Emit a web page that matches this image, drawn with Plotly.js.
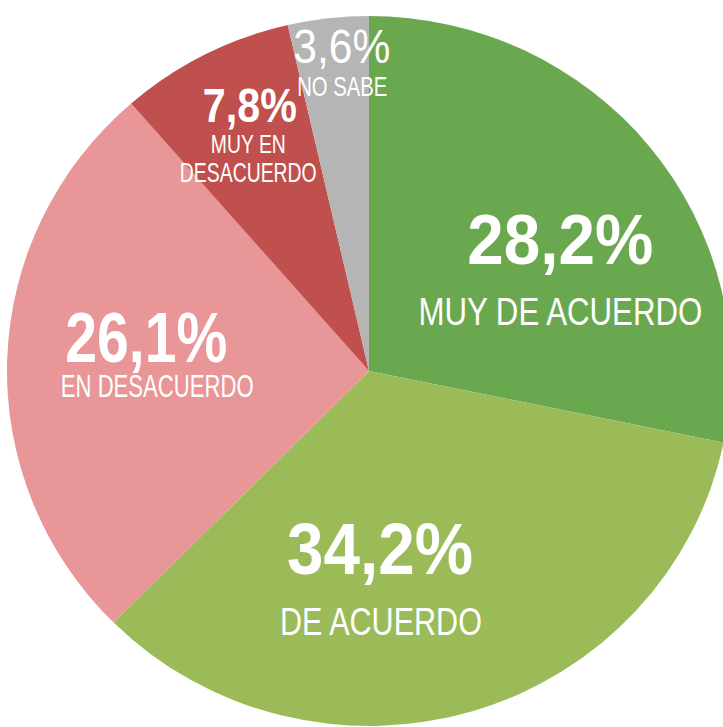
<!DOCTYPE html>
<html>
<head>
<meta charset="utf-8">
<script src="https://cdn.plot.ly/plotly-3.0.1.min.js"></script>
<style>
html, body { margin: 0; padding: 0; overflow: hidden; background: #ffffff; }
#chart { width: 744px; height: 744px; }
</style>
</head>
<body>
<div id="chart"></div>
<script>
// ---- data ----
const categories = ["MUY DE ACUERDO", "DE ACUERDO", "EN DESACUERDO", "MUY EN DESACUERDO", "NO SABE"];
const values = [28.2, 34.2, 26.1, 7.8, 3.6];
const valueLabels = ["28,2%", "34,2%", "26,1%", "7,8%", "3,6%"];
const nameLabels = ["MUY DE ACUERDO", "DE ACUERDO", "EN DESACUERDO", "MUY EN<br>DESACUERDO", "NO SABE"];
const colors = ["#6aa84f", "#9bbb59", "#e89697", "#c0504d", "#b5b5b5"];

// ---- layout constants ----
const W = 744, H = 744;
const FONT = "'Liberation Sans', Arial, sans-serif";
const CX = 369, CY = 371, RY = 355, RX = 362;   // pie centre / radii in page pixels

// label placement: value line and name line(s) per slice (pixel centres, sizes, target widths)
const labelStyle = [
  {px: 560, py: 240, vSize: 70, vBold: true,  vW: 186, names: [{x: 560, y: 311, s: 39, w: 284}]},
  {px: 380, py: 549, vSize: 72, vBold: true,  vW: 186, names: [{x: 381, y: 621, s: 39, w: 202}]},
  {px: 146, py: 338, vSize: 70, vBold: true,  vW: 162, names: [{x: 157, y: 386, s: 31, w: 193}]},
  {px: 250, py: 105, vSize: 49, vBold: true,  vW: 94,  names: [{x: 248, y: 144, s: 26, w: 75}, {x: 248, y: 173, s: 27, w: 137}]},
  {px: 342, py: 46,  vSize: 49, vBold: false, vW: 97,  names: [{x: 342, y: 86, s: 28, w: 90}]}
];

const annotations = [];
const targetWidths = [];
labelStyle.forEach((s, i) => {
  annotations.push({
    xref: 'paper', yref: 'paper', x: s.px / W, y: 1 - s.py / H,
    xanchor: 'center', yanchor: 'middle', showarrow: false,
    text: s.vBold ? '<b>' + valueLabels[i] + '</b>' : valueLabels[i],
    font: {family: FONT, size: s.vSize, color: '#ffffff'}
  });
  targetWidths.push(s.vW);
  const lines = nameLabels[i].split('<br>');
  lines.forEach((ln, k) => {
    const n = s.names[k];
    annotations.push({
      xref: 'paper', yref: 'paper', x: n.x / W, y: 1 - n.y / H,
      xanchor: 'center', yanchor: 'middle', showarrow: false,
      text: ln,
      font: {family: FONT, size: n.s, color: '#ffffff'}
    });
    targetWidths.push(n.w);
  });
});

const trace = {
  type: 'pie',
  labels: categories,
  values: values,
  sort: false,
  direction: 'clockwise',
  rotation: 0,
  marker: {colors: colors, line: {width: 0}},
  textinfo: 'none',
  hoverinfo: 'none',
  domain: {x: [(CX - RY) / W, (CX + RY) / W], y: [1 - (CY + RY) / H, 1 - (CY - RY) / H]}
};

Plotly.newPlot('chart', [trace], {
  width: W, height: H,
  margin: {l: 0, r: 0, t: 0, b: 0, pad: 0},
  showlegend: false,
  paper_bgcolor: '#ffffff',
  annotations: annotations
}, {displayModeBar: false, staticPlot: true}).then(gd => {
  // slightly wider than tall, as in the reference
  const pl = gd.querySelector('.pielayer');
  if (pl) {
    pl.setAttribute('transform', `translate(${CX},0) scale(${RX / RY},1) translate(${-CX},0)`);
  }
  // condense label text horizontally to the reference widths
  const texts = gd.querySelectorAll('.annotation-text');
  texts.forEach((t, i) => {
    const bb = t.getBBox();
    if (!bb.width || !targetWidths[i]) return;
    const sx = Math.min(1, targetWidths[i] / bb.width);
    const cx = bb.x + bb.width / 2;
    t.setAttribute('transform', `translate(${cx},0) scale(${sx},1) translate(${-cx},0)`);
  });
});
</script>
</body>
</html>
